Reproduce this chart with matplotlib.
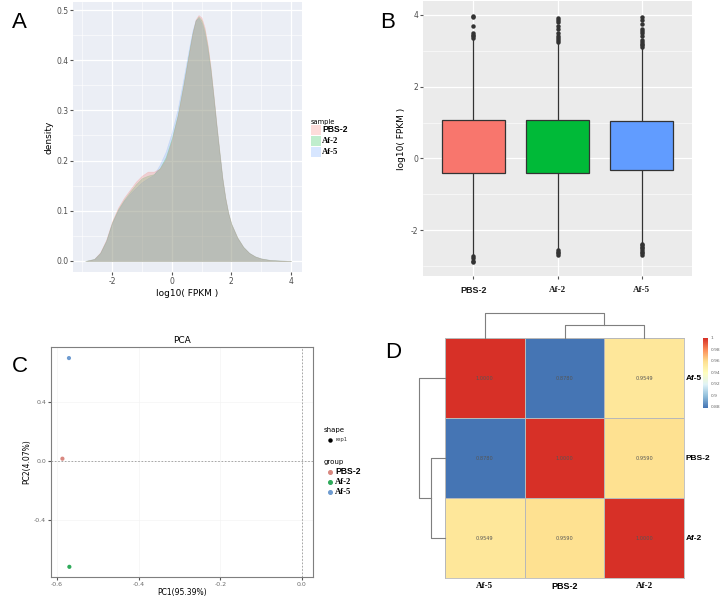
import matplotlib
matplotlib.use('Agg')
import matplotlib.pyplot as plt
import numpy as np
from matplotlib.colors import LinearSegmentedColormap
from matplotlib.patches import Rectangle
from matplotlib.lines import Line2D

plt.rcParams['axes.unicode_minus'] = False

# ---------------- data ----------------
samples = ['PBS-2', 'Af-2', 'Af-5']
sample_colors = ['#F8766D', '#00BA38', '#619CFF']

# Panel A: density of log10(FPKM)
dens_x = [-2.9, -2.6, -2.4, -2.2, -2.0, -1.8, -1.6, -1.4, -1.2, -1.0, -0.8, -0.6, -0.4,
          -0.2, 0.0, 0.2, 0.4, 0.6, 0.7, 0.8, 0.9, 1.0, 1.1, 1.2, 1.3, 1.4, 1.5, 1.6,
          1.7, 1.8, 1.9, 2.0, 2.2, 2.4, 2.6, 2.8, 3.0, 3.3, 3.6, 4.0]
dens_pbs2 = [0.0, 0.004, 0.017, 0.042, 0.079, 0.106, 0.126, 0.142, 0.158, 0.170, 0.178, 0.178,
             0.184, 0.203, 0.240, 0.289, 0.352, 0.421, 0.455, 0.481, 0.490, 0.485, 0.466, 0.433,
             0.389, 0.333, 0.274, 0.219, 0.166, 0.126, 0.095, 0.074, 0.047, 0.028, 0.016,
             0.009, 0.005, 0.002, 0.001, 0.0]
dens_af2 = [0.0, 0.004, 0.016, 0.040, 0.077, 0.103, 0.122, 0.138, 0.153, 0.165, 0.170, 0.173,
            0.185, 0.207, 0.244, 0.291, 0.354, 0.423, 0.455, 0.479, 0.487, 0.480, 0.460, 0.428,
            0.385, 0.330, 0.272, 0.218, 0.165, 0.125, 0.095, 0.074, 0.047, 0.028, 0.016,
            0.009, 0.005, 0.002, 0.001, 0.0]
dens_af5 = [0.0, 0.004, 0.016, 0.040, 0.076, 0.101, 0.120, 0.134, 0.146, 0.157, 0.165, 0.172,
            0.192, 0.218, 0.256, 0.303, 0.365, 0.430, 0.460, 0.480, 0.484, 0.474, 0.452, 0.420,
            0.380, 0.327, 0.270, 0.216, 0.164, 0.124, 0.094, 0.073, 0.046, 0.028, 0.016,
            0.009, 0.005, 0.002, 0.001, 0.0]

# Panel B: boxplot statistics of log10(FPKM)
box_q1 = [-0.42, -0.40, -0.32]
box_med = [0.57, 0.55, 0.52]
box_q3 = [1.08, 1.06, 1.04]
box_whislo = [-2.68, -2.52, -2.35]
box_whishi = [3.30, 3.22, 3.05]
fliers_pbs2 = [3.35, 3.40, 3.45, 3.50, 3.70, 3.93, 3.98, -2.72, -2.78, -2.85, -2.90]
fliers_af2 = [3.25, 3.30, 3.35, 3.42, 3.50, 3.60, 3.70, 3.80, 3.86, 3.91, -2.56, -2.60, -2.65, -2.70]
fliers_af5 = [3.10, 3.15, 3.20, 3.25, 3.30, 3.40, 3.50, 3.55, 3.60, 3.75, 3.85, 3.95,
              -2.38, -2.42, -2.46, -2.50, -2.55, -2.60, -2.65, -2.70]

# Panel C: PCA
pc1 = [-0.587, -0.570, -0.571]
pc2 = [0.018, -0.715, 0.700]
pca_colors = ['#D98880', '#2EAA5A', '#6E9BD0']

# Panel D: correlation heatmap
heat_labels = ['Af-5', 'PBS-2', 'Af-2']
corr = [[1.0000, 0.8780, 0.9549],
        [0.8780, 1.0000, 0.9590],
        [0.9549, 0.9590, 1.0000]]
cbar_ticks = [0.88, 0.90, 0.92, 0.94, 0.96, 0.98, 1.0]
cbar_ticklabels = ['0.88', '0.9', '0.92', '0.94', '0.96', '0.98', '1']
# dendrogram: leaves 1 & 2 (PBS-2, Af-2) join first, then with leaf 0 (Af-5)
dend_h1 = 0.52
dend_h2 = 1.0

# ---------------- figure ----------------
fig = plt.figure(figsize=(7.2, 5.98), dpi=100)
W, H = 720.0, 598.0

def fpos(x0, y0, x1, y1):
    return [x0 / W, 1 - y1 / H, (x1 - x0) / W, (y1 - y0) / H]

SANS = ['Liberation Sans', 'DejaVu Sans']
SERIF = ['Liberation Serif', 'DejaVu Serif']

def lab_family(s):
    return SANS if s.startswith('PBS') else SERIF

grey_txt = '#4D4D4D'

# ---------- Panel A ----------
axA = fig.add_axes(fpos(73, 2, 302, 272))
axA.set_facecolor('#EBEEF5')
dens_all = [dens_pbs2, dens_af2, dens_af5]
alphas = [0.25, 0.2, 0.2]
# draw blue first, red last (gives the greyish overlap of the original)
for k in [2, 1, 0]:
    axA.fill_between(dens_x, 0, dens_all[k], color=sample_colors[k], alpha=alphas[k],
                     linewidth=0.4, edgecolor=sample_colors[k], zorder=3)
axA.set_xlim(-3.31, 4.37)
axA.set_ylim(-0.022, 0.516)
axA.set_xticks([-2, 0, 2, 4])
axA.set_xticks([-3, -1, 1, 3], minor=True)
axA.set_yticks([0, 0.1, 0.2, 0.3, 0.4, 0.5])
axA.set_yticks([0.05, 0.15, 0.25, 0.35, 0.45], minor=True)
axA.set_yticklabels(['0.0', '0.1', '0.2', '0.3', '0.4', '0.5'])
axA.grid(True, which='major', color='white', linewidth=0.9, zorder=0)
axA.grid(True, which='minor', color='white', linewidth=0.4, zorder=0)
axA.set_axisbelow(True)
for s in axA.spines.values():
    s.set_visible(False)
axA.tick_params(which='major', length=2, color='#555555', labelsize=5.5, labelcolor=grey_txt, pad=1.5)
axA.tick_params(which='minor', length=0)
axA.set_xlabel('log10( FPKM )', fontsize=6.5, labelpad=2)
axA.set_ylabel('density', fontsize=6.5, labelpad=2)
fig.text(12 / W, 1 - 23 / H, 'A', fontsize=16, va='center', ha='left', family=SANS)
# legend A
fig.text(311 / W, 1 - 122 / H, 'sample', fontsize=4.8, va='center', ha='left')
for i, (s, c) in enumerate(zip(samples, sample_colors)):
    yc = 130 + i * 11
    fig.patches.append(Rectangle((311 / W, 1 - (yc + 5) / H), 10 / W, 10 / H,
                                 transform=fig.transFigure, facecolor=c, alpha=0.25,
                                 edgecolor='none'))
    fig.text(322 / W, 1 - yc / H, s, fontsize=6.2, weight='bold', va='center', ha='left',
             family=lab_family(s))

# ---------- Panel B ----------
axB = fig.add_axes(fpos(423, 1, 692, 276))
axB.set_facecolor('#EBEBEB')
fliers = [fliers_pbs2, fliers_af2, fliers_af5]
stats = []
for i in range(3):
    stats.append(dict(med=box_med[i], q1=box_q1[i], q3=box_q3[i], whislo=box_whislo[i],
                      whishi=box_whishi[i], fliers=fliers[i], label=samples[i]))
bp = axB.bxp(stats, positions=[1, 2, 3], widths=0.75, patch_artist=True, showfliers=True,
             boxprops=dict(edgecolor='#333333', linewidth=0.9),
             medianprops=dict(color='#1A1A1A', linewidth=1.6),
             whiskerprops=dict(color='#333333', linewidth=0.9),
             capprops=dict(linewidth=0),
             flierprops=dict(marker='o', markersize=2.2, markerfacecolor='#333333',
                             markeredgecolor='#333333'))
for patch, c in zip(bp['boxes'], sample_colors):
    patch.set_facecolor(c)
    patch.set_zorder(3)
axB.set_xlim(0.4, 3.6)
axB.set_ylim(-3.28, 4.39)
axB.set_yticks([-2, 0, 2, 4])
axB.set_yticks([-3, -1, 1, 3], minor=True)
axB.grid(True, which='major', color='white', linewidth=0.9, zorder=0)
axB.grid(True, which='minor', axis='y', color='white', linewidth=0.4, zorder=0)
axB.set_axisbelow(True)
for s in axB.spines.values():
    s.set_visible(False)
axB.tick_params(which='major', length=2, color='#555555', labelsize=5.5, labelcolor=grey_txt, pad=1.5)
axB.tick_params(which='minor', length=0)
axB.set_xticks([1, 2, 3])
axB.set_xticklabels(samples)
for t, s in zip(axB.get_xticklabels(), samples):
    t.set_fontfamily(lab_family(s))
    t.set_fontweight('bold')
    t.set_fontsize(6.5)
    t.set_color('#1A1A1A')
axB.tick_params(axis='x', pad=5)
axB.set_ylabel('log10( FPKM )', fontsize=6.5, labelpad=3)
fig.text(388 / W, 1 - 23 / H, 'B', fontsize=16, va='center', ha='center', family=SANS)

# ---------- Panel C ----------
axC = fig.add_axes(fpos(51, 347, 313, 577))
axC.set_facecolor('white')
axC.axhline(0, color='#9A9A9A', linestyle=(0, (2, 2)), linewidth=0.6, zorder=1)
axC.axvline(0, color='#9A9A9A', linestyle=(0, (2, 2)), linewidth=0.6, zorder=1)
axC.scatter(pc1, pc2, c=pca_colors, s=9, zorder=3, linewidths=0)
axC.set_xlim(-0.615, 0.027)
axC.set_ylim(-0.784, 0.775)
axC.set_xticks([-0.6, -0.4, -0.2, 0.0])
axC.set_xticklabels(['-0.6', '-0.4', '-0.2', '0.0'])
axC.set_yticks([-0.4, 0.0, 0.4])
axC.set_yticklabels(['-0.4', '0.0', '0.4'])
axC.grid(True, color='#F4F4F4', linewidth=0.5, zorder=0)
axC.set_axisbelow(True)
for s in axC.spines.values():
    s.set_color('#7F7F7F')
    s.set_linewidth(0.8)
axC.tick_params(length=2, color='#555555', labelsize=4.5, labelcolor='#6A6A6A', pad=1.5)
axC.set_xlabel('PC1(95.39%)', fontsize=5.5, labelpad=1)
axC.set_ylabel('PC2(4.07%)', fontsize=5.5, labelpad=2)
axC.set_title('PCA', fontsize=6.5, pad=3)
fig.text(12 / W, 1 - 367 / H, 'C', fontsize=16, va='center', ha='left', family=SANS)
# legend C
fig.text(324 / W, 1 - 430 / H, 'shape', fontsize=5, va='center', ha='left')
fig.add_artist(Line2D([330 / W], [1 - 440 / H], marker='o', markersize=2.2, color='black',
                      transform=fig.transFigure, linestyle='none'))
fig.text(335 / W, 1 - 440 / H, 'rep1', fontsize=3.8, va='center', ha='left', color='#333333')
fig.text(324 / W, 1 - 462 / H, 'group', fontsize=5, va='center', ha='left')
for i, (s, c) in enumerate(zip(samples, pca_colors)):
    yc = 472 + i * 10
    fig.add_artist(Line2D([330 / W], [1 - yc / H], marker='o', markersize=2.6, color=c,
                          transform=fig.transFigure, linestyle='none'))
    fig.text(335 / W, 1 - yc / H, s, fontsize=6.2, weight='bold', va='center', ha='left',
             family=lab_family(s))

# ---------- Panel D ----------
ph_colors = ['#4575B4', '#91BFDB', '#E0F3F8', '#FFFFBF', '#FEE090', '#FC8D59', '#D73027']
cmap = LinearSegmentedColormap.from_list('ph', ph_colors, N=256)
vmin, vmax = 0.878, 1.0
axD = fig.add_axes(fpos(445, 338, 684, 578))
data = np.array(corr)
axD.pcolormesh(np.arange(4), np.arange(4), data, cmap=cmap, vmin=vmin, vmax=vmax,
               edgecolors='#B8B8B8', linewidth=0.6)
axD.set_xlim(0, 3)
axD.set_ylim(3, 0)
for i in range(3):
    for j in range(3):
        axD.text(j + 0.5, i + 0.5, '%.4f' % corr[i][j], ha='center', va='center',
                 fontsize=3.6, color='#555555')
for s in axD.spines.values():
    s.set_color('#B8B8B8')
    s.set_linewidth(0.6)
axD.set_xticks([0.5, 1.5, 2.5])
axD.set_xticklabels(heat_labels)
axD.yaxis.tick_right()
axD.set_yticks([0.5, 1.5, 2.5])
axD.set_yticklabels(heat_labels)
axD.tick_params(axis='x', length=0, pad=3)
axD.tick_params(axis='y', length=0, pad=1)
for t, s in zip(axD.get_xticklabels(), heat_labels):
    t.set_fontfamily(lab_family(s)); t.set_fontweight('bold'); t.set_fontsize(6.5)
for t, s in zip(axD.get_yticklabels(), heat_labels):
    t.set_fontfamily(SANS); t.set_fontweight('bold'); t.set_fontsize(6)
fig.text(393 / W, 1 - 353 / H, 'D', fontsize=16, va='center', ha='center', family=SANS)

# top dendrogram
axT = fig.add_axes(fpos(445, 313, 684, 338))
axT.axis('off')
axT.set_xlim(0, 3)
axT.set_ylim(0, dend_h2)
dc = '#7F7F7F'
lw = 0.8
axT.plot([1.5, 1.5, 2.5, 2.5], [0, dend_h1, dend_h1, 0], color=dc, lw=lw, clip_on=False)
axT.plot([0.5, 0.5, 2.0, 2.0], [0, dend_h2, dend_h2, dend_h1], color=dc, lw=lw, clip_on=False)

# left dendrogram
axL = fig.add_axes(fpos(419, 338, 445, 578))
axL.axis('off')
axL.set_ylim(3, 0)
axL.set_xlim(dend_h2, 0)
axL.plot([0, dend_h1, dend_h1, 0], [1.5, 1.5, 2.5, 2.5], color=dc, lw=lw, clip_on=False)
axL.plot([0, dend_h2, dend_h2, dend_h1], [0.5, 0.5, 2.0, 2.0], color=dc, lw=lw, clip_on=False)

# colorbar
axCB = fig.add_axes(fpos(703, 338, 708, 408))
grad = np.linspace(vmin, vmax, 200).reshape(-1, 1)
axCB.imshow(grad, aspect='auto', cmap=cmap, vmin=vmin, vmax=vmax, origin='lower',
            extent=[0, 1, vmin, vmax])
axCB.set_xticks([])
axCB.yaxis.tick_right()
axCB.set_yticks(cbar_ticks)
axCB.set_yticklabels(cbar_ticklabels)
axCB.tick_params(axis='y', length=1, width=0.3, labelsize=3.2, labelcolor='#666666', pad=1,
                 color='white')
for s in axCB.spines.values():
    s.set_visible(False)

fig.savefig('out.png', dpi=100, facecolor='white')
